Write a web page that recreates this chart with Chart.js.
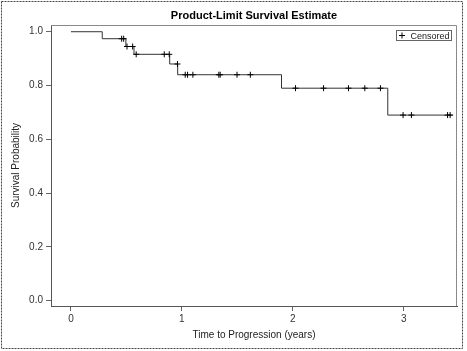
<!DOCTYPE html>
<html><head><meta charset="utf-8">
<script src="https://cdn.jsdelivr.net/npm/chart.js@4.4.1/dist/chart.umd.min.js"></script>
<style>html,body{margin:0;padding:0;background:#fff}#wrap{width:467px;height:351px;position:relative}</style>
</head><body><div id="wrap"><canvas id="c" width="467" height="351"></canvas></div>
<script>
const chartTitle = 'Product-Limit Survival Estimate';
const xTitle = 'Time to Progression (years)';
const yTitle = 'Survival Probability';
const legendLabel = 'Censored';
const eventTimes = [0, 0.282, 0.495, 0.568, 0.890, 0.962, 1.898, 2.856, 3.440];
const survival   = [1.000, 0.974, 0.945, 0.916, 0.880, 0.840, 0.790, 0.690, 0.690];
const censorTimes = [0.457, 0.475, 0.505, 0.556, 0.588, 0.841, 0.886, 0.960,
  1.030, 1.051, 1.099, 1.333, 1.345, 1.497, 1.617,
  2.024, 2.277, 2.502, 2.649, 2.790,
  2.994, 3.069, 3.395, 3.418];
const censorSurv = [0.974, 0.974, 0.945, 0.945, 0.916, 0.916, 0.916, 0.880,
  0.840, 0.840, 0.840, 0.840, 0.840, 0.840, 0.840,
  0.790, 0.790, 0.790, 0.790, 0.790,
  0.690, 0.690, 0.690, 0.690];
const xTicks = [0, 1, 2, 3];
const yTicks = [0, 0.2, 0.4, 0.6, 0.8, 1.0];

const FONT = '"Liberation Sans", Arial, sans-serif';
const kmData = eventTimes.map((t, i) => ({x: t, y: survival[i]}));
const cData = censorTimes.map((t, i) => ({x: t, y: censorSurv[i]}));

const deco = {
  id: 'deco',
  afterDraw(chart) {
    const c = chart.ctx, a = chart.chartArea;
    c.save();
    // top/right frame
    c.strokeStyle = '#8a8a8a'; c.lineWidth = 1;
    c.beginPath();
    c.moveTo(a.left, a.top + 0.5); c.lineTo(a.right - 0.5, a.top + 0.5); c.lineTo(a.right - 0.5, a.bottom);
    c.stroke();
    // title
    c.fillStyle = '#000'; c.textAlign = 'center'; c.textBaseline = 'alphabetic';
    c.font = 'bold 11px ' + FONT;
    c.fillText(chartTitle, (a.left + a.right) / 2, 19);
    // x title
    c.fillStyle = '#222';
    c.font = '10px ' + FONT;
    c.fillText(xTitle, (a.left + a.right) / 2, 338);
    // y title
    c.save();
    c.translate(19, (a.top + a.bottom) / 2);
    c.rotate(-Math.PI / 2);
    c.fillText(yTitle, 0, 0);
    c.restore();
    // legend
    c.strokeStyle = '#666';
    c.strokeRect(396.5, 30.5, 55, 10);
    c.strokeStyle = '#000';
    c.beginPath();
    c.moveTo(399, 35.5); c.lineTo(405, 35.5);
    c.moveTo(402, 32.5); c.lineTo(402, 38.5);
    c.stroke();
    c.font = '9px ' + FONT; c.textAlign = 'left'; c.fillStyle = '#222';
    c.fillText(legendLabel, 410.5, 39);
    // outer dashed border
    c.strokeStyle = '#444'; c.setLineDash([2, 1]);
    c.strokeRect(1.5, 1.5, 461, 347);
    c.restore();
  }
};

new Chart(document.getElementById('c'), {
  type: 'line',
  data: {datasets: [
    {label: 'Survival', data: kmData, stepped: true, borderColor: '#333', borderWidth: 1,
     pointRadius: 0, fill: false, order: 2},
    {label: legendLabel, type: 'scatter', data: cData, showLine: false, pointStyle: 'cross',
     pointRadius: 3, borderColor: '#000', backgroundColor: '#000', borderWidth: 1, order: 1}
  ]},
  options: {
    responsive: false, animation: false, devicePixelRatio: 1,
    layout: {padding: {top: 25, right: 10, left: 0, bottom: 0}},
    plugins: {legend: {display: false}, title: {display: false}, tooltip: {enabled: false}},
    events: [],
    scales: {
      x: {
        type: 'linear', min: -0.18, max: 3.48,
        afterFit(s) { s.height = 45; },
        afterBuildTicks(s) { s.ticks = xTicks.map(v => ({value: v})); },
        grid: {drawOnChartArea: false, drawTicks: true, tickLength: 5, color: '#666'},
        border: {color: '#555', width: 1},
        ticks: {font: {family: FONT, size: 10}, color: '#333', padding: 2, maxRotation: 0,
                callback: v => String(v)}
      },
      y: {
        type: 'linear', min: -0.02, max: 1.025,
        afterFit(s) { s.width = 51; },
        afterBuildTicks(s) { s.ticks = yTicks.map(v => ({value: v})); },
        grid: {drawOnChartArea: false, drawTicks: true, tickLength: 5, color: '#666'},
        border: {color: '#555', width: 1},
        ticks: {font: {family: FONT, size: 10}, color: '#333', padding: 3,
                callback: v => Number(v).toFixed(1)}
      }
    }
  },
  plugins: [deco]
});
</script>
</body></html>
